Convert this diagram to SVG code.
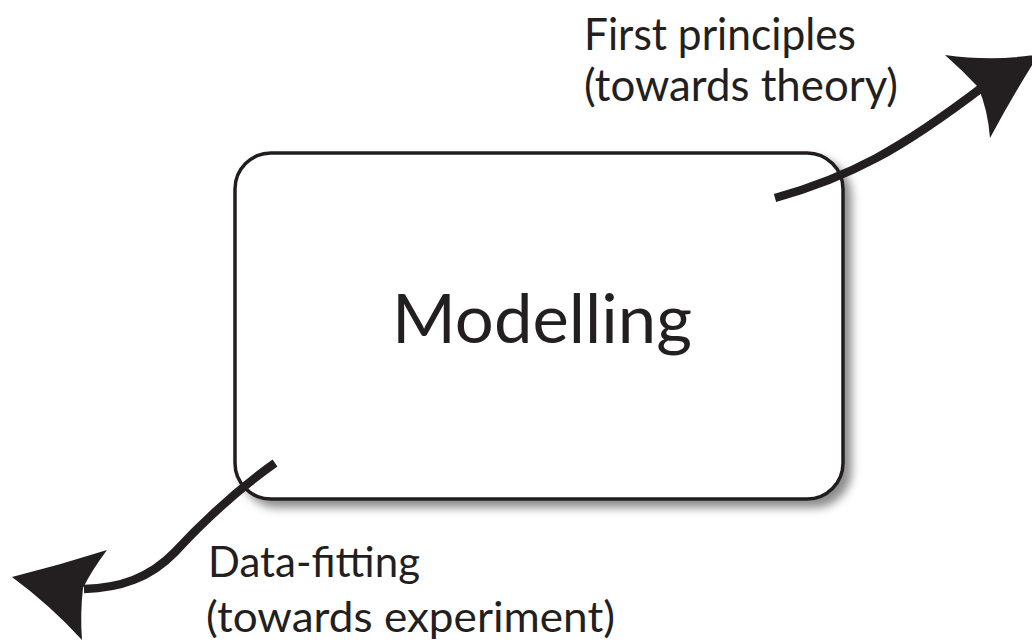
<svg xmlns="http://www.w3.org/2000/svg" width="1032" height="641" viewBox="0 0 1032 641">
<defs>
<filter id="sh" x="-10%" y="-10%" width="130%" height="130%">
<feDropShadow dx="7" dy="7" stdDeviation="5" flood-color="#000" flood-opacity="0.45"/>
</filter>
<style>
.lbl{font-family:Lato,"Open Sans",sans-serif;fill:#231f20;}
.arr{fill:none;stroke:#231f20;stroke-width:8.5;}
.head{fill:#231f20;stroke:none;}
</style>
</defs>
<rect width="1032" height="641" fill="#fff"/>
<g id="modelling">
<rect x="235" y="153" width="608" height="346" rx="36" ry="36" fill="#fff" stroke="#231f20" stroke-width="3.5" filter="url(#sh)"/>
<text class="lbl" x="392" y="343" font-size="67" textLength="300" lengthAdjust="spacingAndGlyphs">Modelling</text>
</g>
<g id="first-principles">
<text class="lbl" x="584" y="50" font-size="43.5" textLength="272" lengthAdjust="spacingAndGlyphs">First principles</text>
<text class="lbl" x="584" y="101" font-size="43.5" textLength="314" lengthAdjust="spacingAndGlyphs">(towards theory)</text>
</g>
<g id="data-fitting">
<text class="lbl" x="208" y="577" font-size="43" textLength="212" lengthAdjust="spacingAndGlyphs">Data-fitting</text>
<text class="lbl" x="206" y="632" font-size="43" textLength="409" lengthAdjust="spacingAndGlyphs">(towards experiment)</text>
</g>
<g id="connectors">
<path class="arr" d="M775,198 C850,177 900,150 984,86"/>
<path class="head" d="M1039,54 Q1013,95 990,138 Q988,110 978,87 Q962,70 945,55 Q995,62 1039,54 Z"/>
<path class="arr" d="M275,463 C230,495 200,525 175,552 C150,578 120,588 84,589"/>
<path class="head" d="M12,577 Q60,565 107,550 Q92,570 83,588 Q80,614 82,640 Q50,605 12,577 Z"/>
</g>
</svg>
